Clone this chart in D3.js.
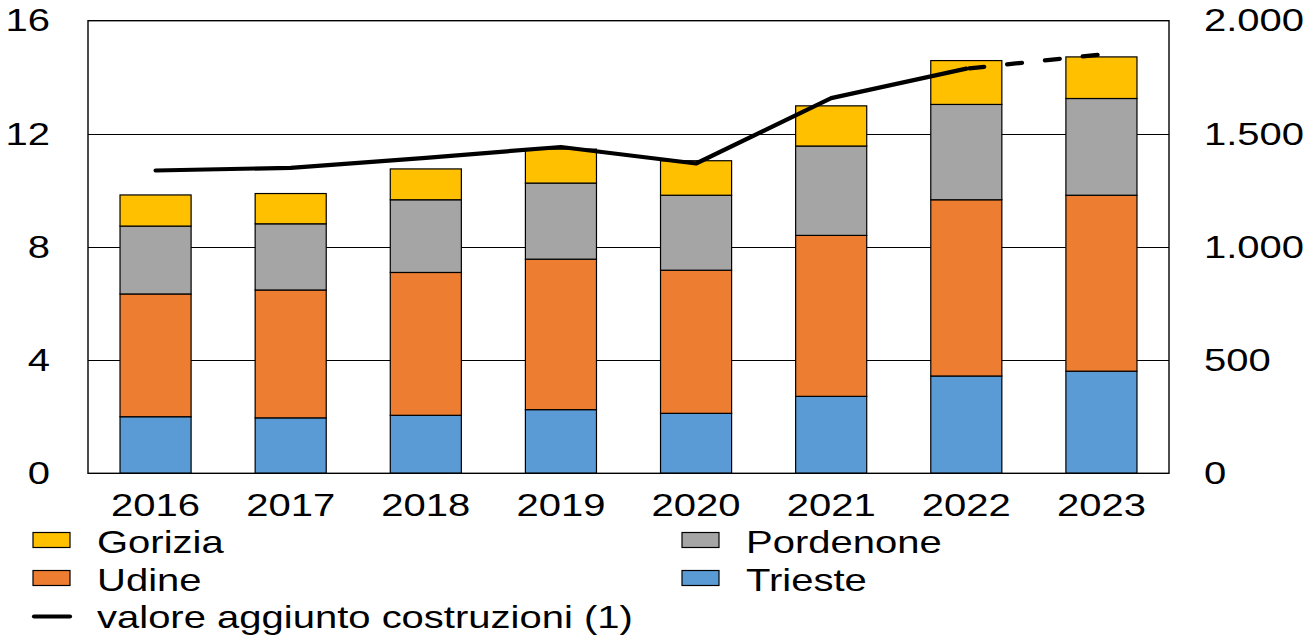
<!DOCTYPE html>
<html>
<head>
<meta charset="utf-8">
<script src="https://cdn.jsdelivr.net/npm/d3@7"></script>
<style>
  html, body { margin: 0; padding: 0; background: #fff; }
  svg { display: block; font-family: "Liberation Sans", Arial, sans-serif; }
</style>
</head>
<body>
<svg id="chart" width="1309" height="638"></svg>
<script>
const years = ["2016", "2017", "2018", "2019", "2020", "2021", "2022", "2023"];
const trieste   = [2.00, 1.96, 2.05, 2.25, 2.12, 2.72, 3.44, 3.61];
const udine     = [4.34, 4.52, 5.05, 5.32, 5.06, 5.69, 6.23, 6.22];
const pordenone = [2.40, 2.34, 2.57, 2.69, 2.65, 3.16, 3.37, 3.42];
const gorizia   = [1.10, 1.07, 1.09, 1.20, 1.22, 1.42, 1.55, 1.47];
const valoreAggiunto = [1338, 1350, 1394, 1442, 1369, 1658, 1788, 1851];
const leftTicks = [0, 4, 8, 12, 16];
const rightTicks = [0, 500, 1000, 1500, 2000];
const seriesNames = ["Trieste", "Udine", "Pordenone", "Gorizia"];
const seriesColors = { Trieste: "#5B9BD5", Udine: "#ED7D31", Pordenone: "#A5A5A5", Gorizia: "#FFC000" };
const lineLabel = "valore aggiunto costruzioni (1)";

const FS = 32, SX = 1.25;
const L = 88, R = 1169, T = 20.7, B = 473.3;

const svg = d3.select("#chart");
const rows = years.map((y, i) => ({ year: y, Trieste: trieste[i], Udine: udine[i], Pordenone: pordenone[i], Gorizia: gorizia[i] }));

const x = d3.scaleBand().domain(years).range([L, R]).paddingInner(0.474).paddingOuter(0.237);
const y = d3.scaleLinear().domain([0, 16]).range([B, T]);
const y2 = d3.scaleLinear().domain([0, 2000]).range([B, T]);

const it = d3.formatLocale({ decimal: ",", thousands: ".", grouping: [3], currency: ["€", ""] });
const fmtR = it.format(",.0f");

// gridlines
svg.append("g").selectAll("line").data(leftTicks.filter(d => d > 0 && d < 16)).join("line")
  .attr("x1", L).attr("x2", R)
  .attr("y1", d => Math.round(y(d)) + 0.5).attr("y2", d => Math.round(y(d)) + 0.5)
  .attr("stroke", "#000").attr("stroke-width", 1);

// bars
const stack = d3.stack().keys(seriesNames);
const stacked = stack(rows);
svg.append("g").selectAll("g").data(stacked).join("g")
  .attr("fill", d => seriesColors[d.key])
  .selectAll("rect").data(d => d).join("rect")
  .attr("x", d => x(d.data.year))
  .attr("width", x.bandwidth())
  .attr("y", d => y(d[1]))
  .attr("height", d => y(d[0]) - y(d[1]))
  .attr("stroke", "#000").attr("stroke-width", 1.2);

// frame
svg.append("rect").attr("x", L).attr("y", T).attr("width", R - L).attr("height", B - T)
  .attr("fill", "none").attr("stroke", "#000").attr("stroke-width", 1.4);

// line
const pts = years.map((yr, i) => [x(yr) + x.bandwidth() / 2, y2(valoreAggiunto[i])]);
const lineGen = d3.line();
svg.append("path").attr("d", lineGen(pts.slice(0, 7)))
  .attr("fill", "none").attr("stroke", "#000").attr("stroke-width", 4.2)
  .attr("stroke-linejoin", "round").attr("stroke-linecap", "round");
svg.append("path").attr("d", lineGen(pts.slice(6)))
  .attr("fill", "none").attr("stroke", "#000").attr("stroke-width", 4.2)
  .attr("stroke-dasharray", "15,23").attr("stroke-dashoffset", -3)
  .attr("stroke-linecap", "round");

function styleText(sel) {
  sel.selectAll("text").attr("font-size", FS).attr("fill", "#000")
    .attr("font-family", "'Liberation Sans', Arial, sans-serif")
    .attr("transform", `scale(${SX},1)`);
}

// left axis
const gl = svg.append("g").attr("transform", `translate(${L},0)`)
  .call(d3.axisLeft(y).tickValues(leftTicks).tickSize(0).tickPadding(38 / SX));
gl.select(".domain").remove();
styleText(gl);

// right axis
const gr = svg.append("g").attr("transform", `translate(${R},0)`)
  .call(d3.axisRight(y2).tickValues(rightTicks).tickSize(0).tickPadding(35 / SX).tickFormat(fmtR));
gr.select(".domain").remove();
styleText(gr);

// bottom axis
const gb = svg.append("g").attr("transform", `translate(0,${B})`)
  .call(d3.axisBottom(x).tickSize(0).tickPadding(19.5));
gb.select(".domain").remove();
styleText(gb);

// legend
const legendItems = [
  { name: "Gorizia", col: 0, row: 0 },
  { name: "Pordenone", col: 1, row: 0 },
  { name: "Udine", col: 0, row: 1 },
  { name: "Trieste", col: 1, row: 1 }
];
const colX = [33, 682], rowY = [540, 578, 616.5];
const lg = svg.append("g");
legendItems.forEach(d => {
  const gx = colX[d.col], gy = rowY[d.row];
  lg.append("rect").attr("x", gx).attr("y", gy - 7.5).attr("width", 37).attr("height", 15)
    .attr("fill", seriesColors[d.name]).attr("stroke", "#000").attr("stroke-width", 1.2);
  lg.append("text").attr("transform", `translate(${gx + 64},${gy + 13}) scale(${SX},1)`)
    .attr("font-size", FS).text(d.name);
});
lg.append("line").attr("x1", 34).attr("x2", 70).attr("y1", rowY[2]).attr("y2", rowY[2])
  .attr("stroke", "#000").attr("stroke-width", 4.2).attr("stroke-linecap", "round");
lg.append("text").attr("transform", `translate(97,${rowY[2] + 11}) scale(${SX},1)`)
  .attr("font-size", FS).text(lineLabel);
</script>
</body>
</html>
